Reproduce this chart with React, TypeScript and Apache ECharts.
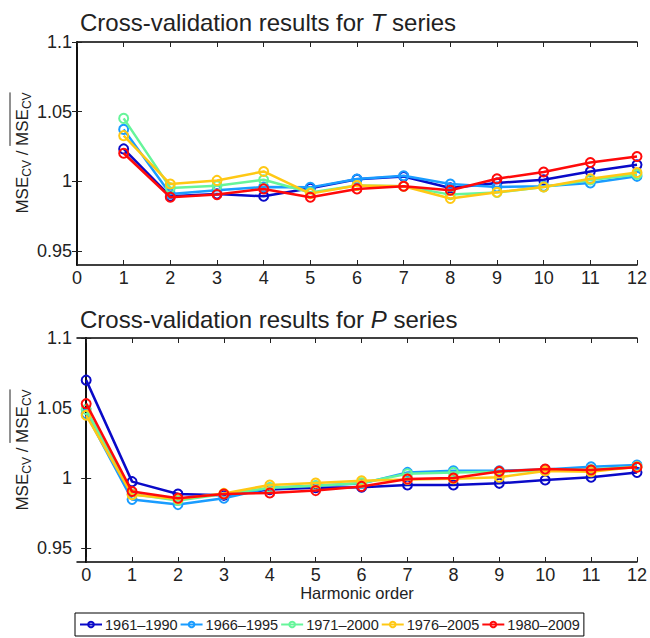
import React, { useEffect, useRef } from "react";
import * as echarts from "echarts";

const seriesNames = ["1961\u20131990", "1966\u20131995", "1971\u20132000", "1976\u20132005", "1980\u20132009"];
const colors = ["#0a0ac8", "#1a9cff", "#66f59a", "#ffc814", "#ff0a0a"];

const harmonicsT = [1, 2, 3, 4, 5, 6, 7, 8, 9, 10, 11, 12];
const harmonicsP = [0, 1, 2, 3, 4, 5, 6, 7, 8, 9, 10, 11, 12];
const xTicks = [0, 1, 2, 3, 4, 5, 6, 7, 8, 9, 10, 11, 12];
const yTicks = [0.95, 1, 1.05, 1.1];

const t1961 = [1.0233, 0.9893, 0.991, 0.9893, 0.995, 1.0015, 1.0035, 0.9953, 0.9988, 1.0012, 1.0071, 1.0119];
const t1966 = [1.0373, 0.991, 0.9936, 0.996, 0.9957, 1.0017, 1.004, 0.9981, 0.996, 0.9965, 0.9988, 1.0036];
const t1971 = [1.0452, 0.9953, 0.9969, 1.0012, 0.992, 0.997, 0.9965, 0.9905, 0.992, 0.996, 1.001, 1.005];
const t1976 = [1.0328, 0.9981, 1.0007, 1.0071, 0.9912, 0.997, 0.9965, 0.9877, 0.9922, 0.996, 1.0019, 1.0064];
const t1980 = [1.0202, 0.9886, 0.9905, 0.9946, 0.9886, 0.9946, 0.9965, 0.9936, 1.0019, 1.0067, 1.0135, 1.0178];

const p1961 = [1.0699, 0.9974, 0.9886, 0.9876, 0.9917, 0.993, 0.9934, 0.995, 0.995, 0.9962, 0.9986, 1.0005, 1.004];
const p1966 = [1.046, 0.9846, 0.981, 0.9856, 0.993, 0.9945, 0.996, 1.004, 1.0052, 1.0052, 1.006, 1.008, 1.0092];
const p1971 = [1.049, 0.9885, 0.984, 0.9886, 0.993, 0.9945, 0.9965, 1.003, 1.004, 1.0045, 1.0055, 1.006, 1.008];
const p1976 = [1.0448, 0.988, 0.985, 0.989, 0.995, 0.9964, 0.998, 0.999, 0.9995, 1.0005, 1.005, 1.0045, 1.008];
const p1980 = [1.0531, 0.9903, 0.9856, 0.9886, 0.9893, 0.991, 0.994, 0.9993, 1.0, 1.0047, 1.0064, 1.0057, 1.0076];

const tData = [t1961, t1966, t1971, t1976, t1980];
const pData = [p1961, p1966, p1971, p1976, p1980];

const FONT = "'Liberation Sans', Arial, Helvetica, sans-serif";

function measure(text: string, size: number): number {
  const c = document.createElement("canvas").getContext("2d");
  if (!c) return text.length * size * 0.55;
  c.font = `${size}px "Liberation Sans", Arial, sans-serif`;
  return c.measureText(text).width;
}

function yLabel(cx: number, cy: number) {
  const big = 17;
  const small = 12;
  const parts = [
    { t: "MSE", s: big, dy: 0 },
    { t: "CV", s: small, dy: 5 },
    { t: " / ", s: big, dy: 0 },
    { t: "MSE", s: big, dy: 0 },
    { t: "CV", s: small, dy: 5 },
  ];
  const widths = parts.map((p) => measure(p.t, p.s));
  const total = widths.reduce((a, b) => a + b, 0);
  let x = -total / 2;
  const children: any[] = [];
  let olStart = 0;
  parts.forEach((p, i) => {
    if (i === 3) olStart = x;
    children.push({
      type: "text",
      x,
      y: p.dy,
      style: {
        text: p.t,
        fontSize: p.s,
        fontFamily: FONT,
        fill: "#222",
        align: "left",
        verticalAlign: "middle",
      },
    });
    x += widths[i];
  });
  children.push({
    type: "line",
    shape: { x1: olStart, y1: -12, x2: x, y2: -12 },
    style: { stroke: "#222", lineWidth: 1 },
  });
  return { type: "group", x: cx, y: cy, rotation: Math.PI / 2, children };
}

export default function App() {
  const ref = useRef<HTMLDivElement>(null);
  useEffect(() => {
    if (!ref.current) return;
    const chart = echarts.init(ref.current, null, { renderer: "svg" });
    const axisLine = { show: true, lineStyle: { color: "#000", width: 1.5 } };
    const tick = { show: true, inside: true, length: 5, lineStyle: { color: "#222", width: 1 } };
    const label = { fontSize: 18, color: "#222", fontFamily: FONT };

    const grids = [
      { left: 77, right: 13, top: 42, height: 223 },
      { left: 77, right: 13, top: 338, height: 224 },
    ];
    const xAxes: any[] = [];
    const yAxes: any[] = [];
    [0, 1].forEach((g) => {
      const xmin = g === 0 ? 0 : -0.2;
      xAxes.push({
        type: "value",
        gridIndex: g,
        min: xmin,
        max: 12,
        position: "bottom",
        axisLine,
        axisTick: { ...tick, customValues: xTicks },
        axisLabel: { ...label, margin: 4, customValues: xTicks },
        splitLine: { show: false },
        name: g === 1 ? "Harmonic order" : "",
        nameLocation: "middle",
        nameGap: 21,
        nameTextStyle: { fontSize: 16.5, color: "#222", fontFamily: FONT, verticalAlign: "top" },
      });
      xAxes.push({
        type: "value",
        gridIndex: g,
        min: xmin,
        max: 12,
        position: "top",
        axisLine,
        axisTick: { ...tick, customValues: xTicks },
        axisLabel: { show: false },
        splitLine: { show: false },
      });
      yAxes.push({
        type: "value",
        gridIndex: g,
        min: 0.94,
        max: 1.1,
        position: "left",
        axisLine,
        axisTick: { ...tick, customValues: yTicks },
        axisLabel: { ...label, margin: 5, customValues: yTicks, formatter: (v: number) => String(+v.toFixed(2)) },
        splitLine: { show: false },
      });
      yAxes.push({
        type: "value",
        gridIndex: g,
        min: 0.94,
        max: 1.1,
        position: "right",
        axisLine,
        axisTick: { ...tick, customValues: yTicks },
        axisLabel: { show: false },
        splitLine: { show: false },
      });
    });

    const mkSeries = (data: number[][], xs: number[], g: number) =>
      data.map((vals, i) => ({
        name: seriesNames[i],
        type: "line",
        xAxisIndex: g * 2,
        yAxisIndex: g * 2,
        data: vals.map((v, k) => [xs[k], v]),
        symbol: "circle",
        symbolSize: 9,
        lineStyle: { color: colors[i], width: 2.5 },
        itemStyle: { color: "rgba(255,255,255,0)", borderColor: colors[i], borderWidth: 2 },
        emphasis: { disabled: true },
        z: 2 + i,
      }));

    const titleStyle = {
      fontSize: 24,
      fontWeight: "normal",
      color: "#222",
      fontFamily: FONT,
      rich: { i: { fontSize: 24, fontStyle: "italic", color: "#222", fontFamily: FONT } },
    };

    chart.setOption({
      animation: false,
      backgroundColor: "#fff",
      title: [
        { text: "Cross-validation results for {i|T} series", left: 75, top: 5, textStyle: titleStyle },
        { text: "Cross-validation results for {i|P} series", left: 75, top: 302, textStyle: titleStyle },
      ],
      legend: {
        left: 75,
        top: 613,
        width: 520,
        orient: "horizontal",
        data: seriesNames,
        itemWidth: 22,
        itemHeight: 7,
        itemGap: 2,
        padding: [4, 4, 4, 4],
        borderColor: "#000",
        borderWidth: 1,
        textStyle: { fontSize: 14.5, color: "#222", fontFamily: FONT, padding: [0, 0, 0, -2] },
      },
      grid: grids,
      xAxis: xAxes,
      yAxis: yAxes,
      graphic: [yLabel(22, 153), yLabel(22, 450)],
      series: [...mkSeries(tData, harmonicsT, 0), ...mkSeries(pData, harmonicsP, 1)],
    });
    return () => chart.dispose();
  }, []);
  return <div ref={ref} style={{ position: "fixed", left: 0, top: 0, width: 650, height: 638 }} />;
}
